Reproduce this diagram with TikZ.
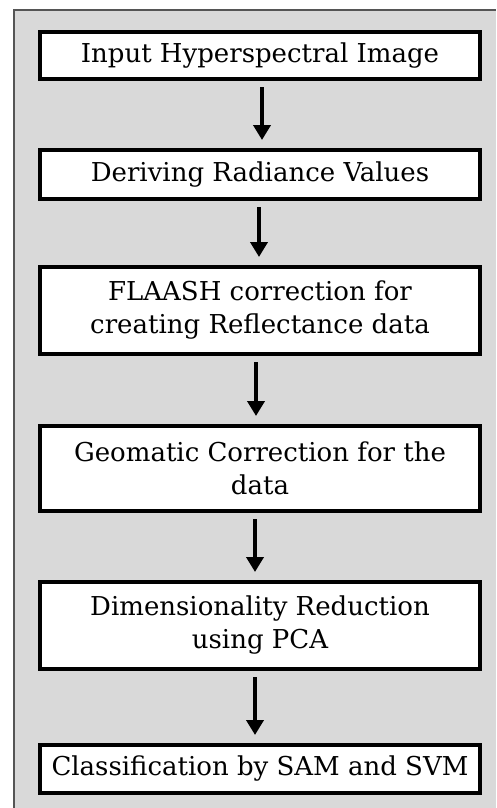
\documentclass[tikz,border=0pt]{standalone}
\usepackage{fontspec}
\setmainfont{DejaVu Serif}
\usetikzlibrary{arrows.meta}
\definecolor{bggray}{HTML}{D9D9D9}
\definecolor{framegray}{HTML}{555555}
\begin{document}
\begin{tikzpicture}[x=1pt,y=-1pt,
  stepbox/.style={draw=black, line width=4pt, fill=white, minimum width=440pt,
    align=center, inner sep=0pt, font=\fontsize{26}{33}\selectfont},
  flow/.style={line width=4pt, -{Triangle[width=17pt,length=15pt]}, shorten <=6pt, shorten >=8pt}]
\useasboundingbox (0,0) rectangle (496,808);
\fill[bggray] (14,10) rectangle (496,808);
\draw[framegray, line width=1.5pt] (14,808) -- (14,10) -- (496,10);
\node[stepbox, minimum height=47pt] (b1) at (260,55.5) {Input Hyperspectral Image};
\node[stepbox, minimum height=49pt] (b2) at (260,174.5) {Deriving Radiance Values};
\node[stepbox, minimum height=87pt] (b3) at (260,310.5) {FLAASH correction for\\creating Reflectance data};
\node[stepbox, minimum height=85pt] (b4) at (260,468.5) {Geomatic Correction for the\\data};
\node[stepbox, minimum height=87pt] (b5) at (260,625.5) {Dimensionality Reduction\\using PCA};
\node[stepbox, minimum height=48pt] (b6) at (260,769) {Classification by SAM and SVM};
\draw[flow] ([xshift=2pt]b1.south) -- ([xshift=2pt]b2.north);
\draw[flow] ([xshift=-1pt]b2.south) -- ([xshift=-1pt]b3.north);
\draw[flow] ([xshift=-4pt]b3.south) -- ([xshift=-4pt]b4.north);
\draw[flow] ([xshift=-5pt]b4.south) -- ([xshift=-5pt]b5.north);
\draw[flow] ([xshift=-5pt]b5.south) -- ([xshift=-5pt]b6.north);
\end{tikzpicture}
\end{document}
